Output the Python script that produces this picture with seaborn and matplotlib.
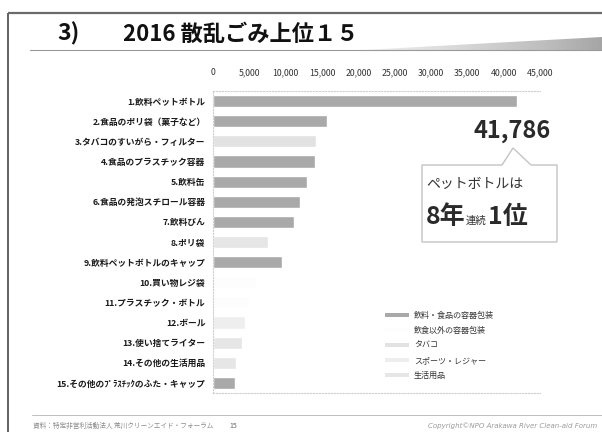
import numpy as np
import pandas as pd
import matplotlib
matplotlib.use("Agg")
import matplotlib.pyplot as plt
import seaborn as sns
from matplotlib.patches import Patch, Polygon

# ---- data ----
labels = [
    "1.飲料ペットボトル",
    "2.食品のポリ袋（菓子など）",
    "3.タバコのすいがら・フィルター",
    "4.食品のプラスチック容器",
    "5.飲料缶",
    "6.食品の発泡スチロール容器",
    "7.飲料びん",
    "8.ポリ袋",
    "9.飲料ペットボトルのキャップ",
    "10.買い物レジ袋",
    "11.プラスチック・ボトル",
    "12.ボール",
    "13.使い捨てライター",
    "14.その他の生活用品",
    "15.その他のﾌﾟﾗｽﾁｯｸのふた・キャップ",
]
values = [41786, 15750, 14200, 14000, 13000, 12000, 11100, 7600, 9500,
          5900, 4900, 4350, 3950, 3200, 3000]
groups = [
    "飲料・食品の容器包装", "飲料・食品の容器包装", "タバコ", "飲料・食品の容器包装",
    "飲料・食品の容器包装", "飲料・食品の容器包装", "飲料・食品の容器包装", "生活用品",
    "飲料・食品の容器包装", "飲食以外の容器包装", "飲食以外の容器包装", "スポーツ・レジャー",
    "生活用品", "生活用品", "飲料・食品の容器包装",
]
legend_labels = ["飲料・食品の容器包装", "飲食以外の容器包装", "タバコ", "スポーツ・レジャー", "生活用品"]
legend_colors = ["#a9a9a9", "#fdfdfd", "#e2e2e2", "#eeeeee", "#e6e6e6"]
xticks = [0, 5000, 10000, 15000, 20000, 25000, 30000, 35000, 40000, 45000]

sns.set_theme(style="white")
plt.rcParams["font.family"] = ["Noto Sans CJK JP", "DejaVu Sans"]

W, H = 602, 432
fig = plt.figure(figsize=(W / 100, H / 100), dpi=100)
fig.patch.set_facecolor("white")


def fx(x):
    return x / W


def fy(y):
    return 1 - y / H


# main bar axes
ax_l, ax_r, ax_t, ax_b = 213, 540, 91, 393
ax = fig.add_axes([fx(ax_l), fy(ax_b), fx(ax_r - ax_l), (ax_b - ax_t) / H])
df = pd.DataFrame({"label": labels, "value": values, "group": groups})
sns.barplot(data=df, x="value", y="label", hue="group", hue_order=legend_labels,
            palette=dict(zip(legend_labels, legend_colors)), order=labels,
            dodge=False, width=0.6, saturation=1, orient="h", ax=ax, legend=False)
ax.set_xlim(0, 45000)
ax.set_ylim(14.5, -0.5)
ax.set_xlabel("")
ax.set_ylabel("")
ax.xaxis.tick_top()
ax.set_xticks(xticks)
ax.set_xticklabels([f"{v:,}" for v in xticks], fontsize=6.3, color="#333333")
ax.tick_params(axis="x", length=0, pad=10)
ax.tick_params(axis="y", length=0, pad=5.5, labelsize=6.3, labelcolor="#1a1a1a")
for t in ax.get_yticklabels():
    t.set_fontweight("bold")
for s in ["top", "bottom", "left"]:
    ax.spines[s].set_color("#cfcfcf")
    ax.spines[s].set_linestyle(":")
    ax.spines[s].set_linewidth(0.8)
ax.spines["right"].set_visible(False)
ax.set_facecolor("none")

handles = [Patch(facecolor=c, edgecolor="none") for c in legend_colors]
ax.legend(handles, legend_labels, loc="upper left", bbox_to_anchor=(fx(385), fy(311)),
          bbox_transform=fig.transFigure, frameon=False, fontsize=5.8,
          handlelength=3.0, handleheight=0.45, handletextpad=0.6, labelspacing=0.75,
          borderpad=0, borderaxespad=0, labelcolor="#333333")

# overlay axes in pixel coordinates for slide decoration
ov = fig.add_axes([0, 0, 1, 1], zorder=3)
ov.set_xlim(0, W)
ov.set_ylim(H, 0)
ov.axis("off")
ov.patch.set_alpha(0)

# slide border
ov.plot([8, 8], [13, H], color="#555555", lw=1.3, solid_capstyle="butt")
ov.plot([8, W], [13, 13], color="#6a6a6a", lw=1.6, solid_capstyle="butt")

# title
ov.text(57, 34, "3)", fontsize=16.5, fontweight="bold", color="#111111", va="center", ha="left")
ov.text(123, 34, "2016 散乱ごみ上位１５", fontsize=16, fontweight="bold", color="#111111",
        va="center", ha="left")

# title underline with gradient wedge
ov.plot([30, W], [50, 50], color="#9a9a9a", lw=0.8)
wedge = Polygon([[345, 50.5], [W, 50.5], [W, 37]], closed=True, facecolor="none", edgecolor="none")
ov.add_patch(wedge)
grad = np.linspace(0.1, 0.45, 200)[None, :]
im = ov.imshow(grad, cmap="Greys", vmin=0, vmax=1, extent=[345, W, 50.5, 37], aspect="auto",
               interpolation="bilinear")
im.set_clip_path(wedge)
ov.set_xlim(0, W)
ov.set_ylim(H, 0)

# callout
ov.text(512, 131, "41,786", fontsize=17, fontweight="bold", color="#2a2a2a", ha="center", va="center")
box = Polygon([[422, 165], [502, 165], [513, 148], [531, 165], [557, 165], [557, 242], [422, 242]],
              closed=True, facecolor="white", edgecolor="#c4c4c4", lw=1.0)
ov.add_patch(box)
ov.text(426, 184, "ペットボトルは", fontsize=10, color="#333333", ha="left", va="center")
ov.text(426, 224, "8年", fontsize=18, fontweight="bold", color="#2a2a2a", ha="left", va="baseline")
ov.text(466, 224, "連続", fontsize=7.5, color="#333333", ha="left", va="baseline")
ov.text(488, 224, "1位", fontsize=18, fontweight="bold", color="#2a2a2a", ha="left", va="baseline")

# footer
ov.plot([32, W], [415, 415], color="#bdbdbd", lw=0.7)
ov.text(33, 426, "資料：特定非営利活動法人 荒川クリーンエイド・フォーラム", fontsize=4.8,
        color="#8a8a8a", ha="left", va="center")
ov.text(233, 426, "15", fontsize=5, color="#666666", ha="center", va="center")
ov.text(597, 426, "Copyright©NPO Arakawa River Clean-aid Forum", fontsize=5, style="italic",
        color="#9a9a9a", ha="right", va="center", family=["DejaVu Sans"])

fig.savefig("out.png", dpi=100)
